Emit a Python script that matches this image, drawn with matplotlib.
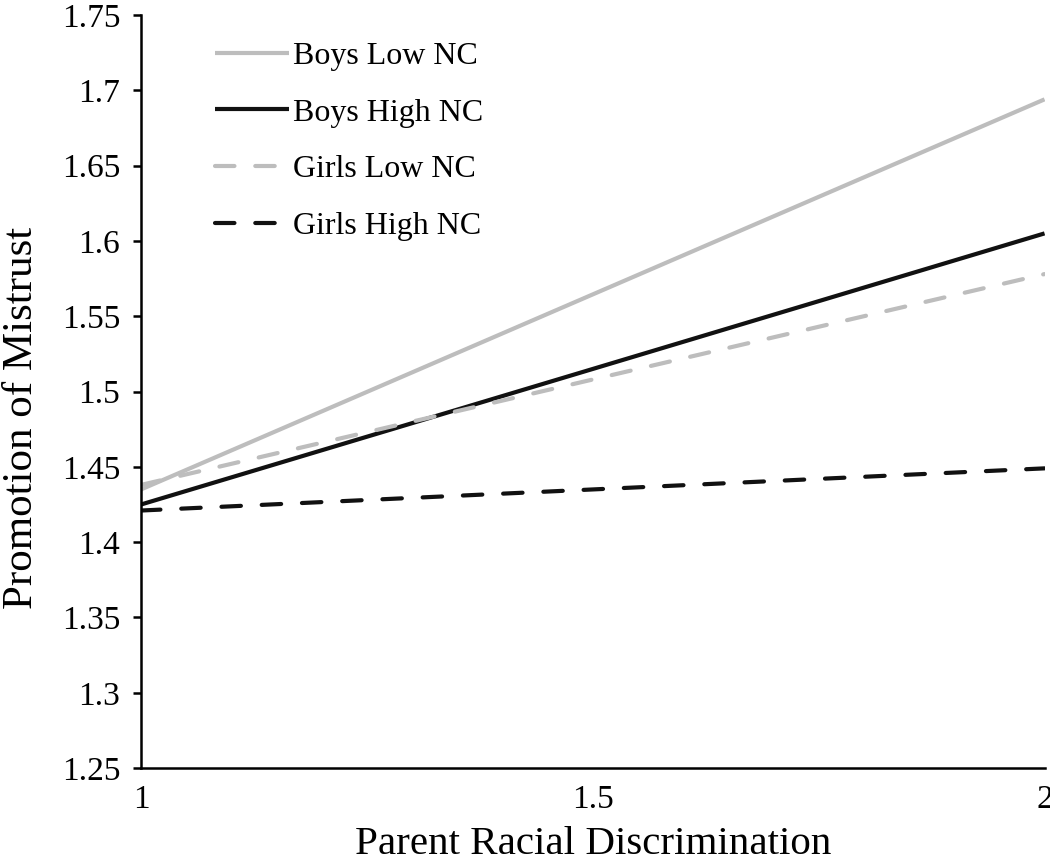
import matplotlib
matplotlib.use("Agg")
import matplotlib.pyplot as plt

plt.rcParams['font.family'] = ['Liberation Serif', 'DejaVu Serif']
plt.rcParams['lines.scale_dashes'] = False

x = [1, 2]
boys_low = [1.435, 1.694]
boys_high = [1.425, 1.605]
girls_low = [1.438, 1.578]
girls_high = [1.421, 1.449]
labels = ["Boys Low NC", "Boys High NC", "Girls Low NC", "Girls High NC"]
xticks = [1, 1.5, 2]
xticklabels = ["1", "1.5", "2"]
yticks = [1.25, 1.3, 1.35, 1.4, 1.45, 1.5, 1.55, 1.6, 1.65, 1.7, 1.75]
yticklabels = ["1.25", "1.3", "1.35", "1.4", "1.45", "1.5", "1.55", "1.6", "1.65", "1.7", "1.75"]

gray = "#BDBDBD"
black = "#111111"

fig = plt.figure(figsize=(10.5, 8.63), dpi=100)
ax = fig.add_axes([0.1343, 0.110, 0.8605, 0.8726])

lw = 3.0
ax.plot(x, boys_low, color=gray, lw=lw, label=labels[0], solid_capstyle='butt')
ax.plot(x, boys_high, color=black, lw=lw, label=labels[1], solid_capstyle='butt')
ax.plot(x, girls_low, color=gray, lw=lw, label=labels[2], dashes=(14, 15), dash_capstyle='round')
ax.plot(x, girls_high, color=black, lw=lw, label=labels[3], dashes=(14, 15), dash_capstyle='round')

ax.set_xlim(1, 2)
ax.set_ylim(1.25, 1.75)
ax.set_xticks(xticks)
ax.set_xticklabels(xticklabels)
ax.set_yticks(yticks)
ax.set_yticklabels(yticklabels)

for s in ['top', 'right']:
    ax.spines[s].set_visible(False)
for s in ['left', 'bottom']:
    ax.spines[s].set_linewidth(1.8)
    ax.spines[s].set_color('black')

ax.tick_params(axis='y', direction='out', length=6, width=1.8, labelsize=24, pad=9)
ax.tick_params(axis='x', length=0, labelsize=24, pad=12)

ax.set_xlabel("Parent Racial Discrimination", fontsize=29.5, labelpad=8)
ax.set_ylabel("Promotion of Mistrust", fontsize=31)
ax.yaxis.set_label_coords(-0.111, 0.465)

leg = ax.legend(loc='upper left', bbox_to_anchor=(0.082, 0.965), frameon=False,
                fontsize=23, handlelength=2.3, handletextpad=0.15,
                labelspacing=0.86, borderpad=0, borderaxespad=0)

fig.savefig("out.png", dpi=100)
